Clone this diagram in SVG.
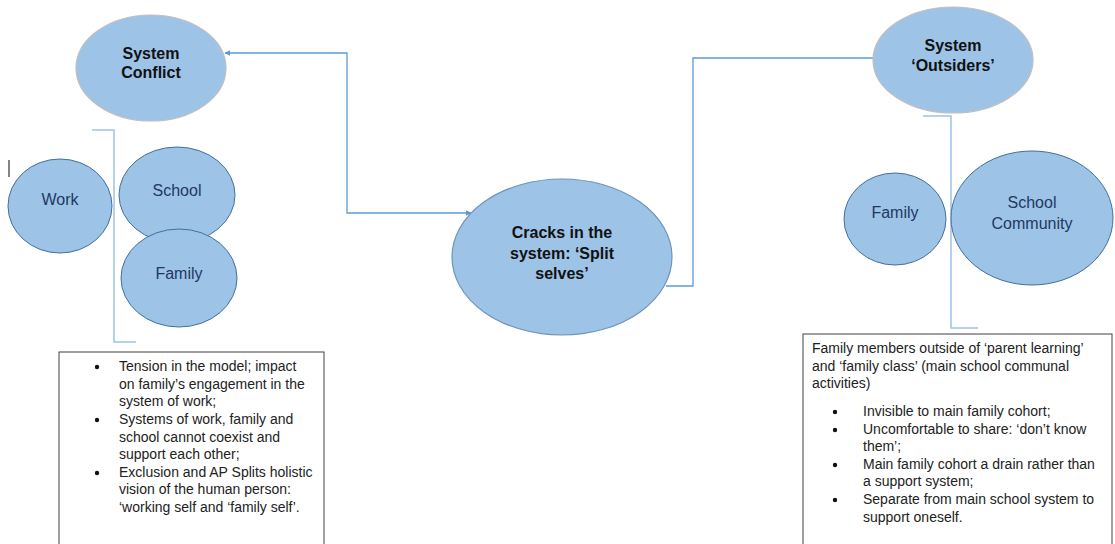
<svg xmlns="http://www.w3.org/2000/svg" width="1115" height="544" viewBox="0 0 1115 544">
  <style>
    .main { fill: #9DC3E6; stroke: #BFBFBF; stroke-width: 1.2; }
    .crack { fill: #9DC3E6; stroke: #6F94BC; stroke-width: 1.2; }
    .sub { fill: #9DC3E6; stroke: #41719C; stroke-width: 1; }
    .title { font-family: "Liberation Sans", Arial, sans-serif; font-size: 16px; font-weight: bold; fill: #111; text-anchor: middle; }
    .label { font-family: "Liberation Sans", Arial, sans-serif; font-size: 16px; fill: #1F3864; text-anchor: middle; }
    .conn { fill: none; stroke: #5B9BD5; stroke-width: 1.3; }
    .brace { fill: none; stroke: #9DC3E6; stroke-width: 1.5; }
    .box { fill: #FFFFFF; stroke: #404040; stroke-width: 1; }
    .note { font-family: "Liberation Sans", Arial, sans-serif; font-size: 14px; fill: #222; }
    .dot { fill: #111; }
  </style>
  <defs>
    <marker id="arrow" viewBox="0 0 10 10" refX="9" refY="5" markerWidth="6" markerHeight="6" orient="auto-start-reverse" markerUnits="userSpaceOnUse">
      <path d="M0,0 L10,5 L0,10 z" fill="#5B9BD5"/>
    </marker>
  </defs>

  <rect width="1115" height="544" fill="#FFFFFF"/>

  <!-- connectors -->
  <g id="connectors">
    <polyline class="conn" points="225,53 347,53 347,213 471,213" marker-start="url(#arrow)" marker-end="url(#arrow)"/>
    <polyline class="conn" points="666,286 693,286 693,58 874,58"/>
    <!-- brackets grouping the sub-systems -->
    <polyline class="brace" points="92,130 114,130 114,342 136,342"/>
    <polyline class="brace" points="923,116 951,116 951,328 978,328"/>
    <!-- text cursor mark -->
    <line x1="9" y1="160" x2="9" y2="177" stroke="#333" stroke-width="1.2"/>
  </g>

  <g id="system-conflict">
    <ellipse class="main" cx="151" cy="68" rx="75" ry="53"/>
    <text class="title" x="151" y="59">System</text>
    <text class="title" x="151" y="78">Conflict</text>
  </g>

  <g id="work">
    <ellipse class="sub" cx="60" cy="206" rx="52" ry="47"/>
    <text class="label" x="60" y="205">Work</text>
  </g>

  <g id="school-left">
    <ellipse class="sub" cx="177" cy="195" rx="58" ry="48"/>
    <text class="label" x="177" y="196">School</text>
  </g>

  <g id="family-left">
    <ellipse class="sub" cx="179" cy="278" rx="58" ry="49"/>
    <text class="label" x="179" y="279">Family</text>
  </g>

  <g id="cracks">
    <ellipse class="crack" cx="562" cy="257" rx="110" ry="78"/>
    <text class="title" x="562" y="238">Cracks in the</text>
    <text class="title" x="562" y="259">system: ‘Split</text>
    <text class="title" x="562" y="279">selves’</text>
  </g>

  <g id="system-outsiders">
    <ellipse class="main" cx="953" cy="60" rx="80" ry="53"/>
    <text class="title" x="953" y="51">System</text>
    <text class="title" x="953" y="71">‘Outsiders’</text>
  </g>

  <g id="family-right">
    <ellipse class="sub" cx="895" cy="219" rx="51" ry="46"/>
    <text class="label" x="895" y="218">Family</text>
  </g>

  <g id="school-community">
    <ellipse class="sub" cx="1032" cy="218" rx="81" ry="67"/>
    <text class="label" x="1032" y="208">School</text>
    <text class="label" x="1032" y="229">Community</text>
  </g>

  <g id="conflict-notes">
    <rect class="box" x="59" y="352" width="265" height="200"/>
    <circle class="dot" cx="97" cy="367" r="2.2"/>
    <circle class="dot" cx="97" cy="420" r="2.2"/>
    <circle class="dot" cx="97" cy="473" r="2.2"/>
    <g class="note">
      <text x="119" y="371">Tension in the model; impact</text>
      <text x="119" y="389">on family’s engagement in the</text>
      <text x="119" y="406">system of work;</text>
      <text x="119" y="424">Systems of work, family and</text>
      <text x="119" y="442">school cannot coexist and</text>
      <text x="119" y="459">support each other;</text>
      <text x="119" y="477">Exclusion and AP Splits holistic</text>
      <text x="119" y="494">vision of the human person:</text>
      <text x="119" y="512">‘working self and ‘family self’.</text>
    </g>
  </g>

  <g id="outsiders-notes">
    <rect class="box" x="803" y="334" width="309" height="218"/>
    <circle class="dot" cx="835" cy="412" r="2.2"/>
    <circle class="dot" cx="835" cy="430" r="2.2"/>
    <circle class="dot" cx="835" cy="465" r="2.2"/>
    <circle class="dot" cx="835" cy="500" r="2.2"/>
    <g class="note">
      <text x="812" y="353">Family members outside of ‘parent learning’</text>
      <text x="812" y="371">and ‘family class’ (main school communal</text>
      <text x="812" y="388">activities)</text>
      <text x="863" y="416">Invisible to main family cohort;</text>
      <text x="863" y="434">Uncomfortable to share: ‘don’t know</text>
      <text x="863" y="451">them’;</text>
      <text x="863" y="469">Main family cohort a drain rather than</text>
      <text x="863" y="486">a support system;</text>
      <text x="863" y="504">Separate from main school system to</text>
      <text x="863" y="522">support oneself.</text>
    </g>
  </g>
</svg>
